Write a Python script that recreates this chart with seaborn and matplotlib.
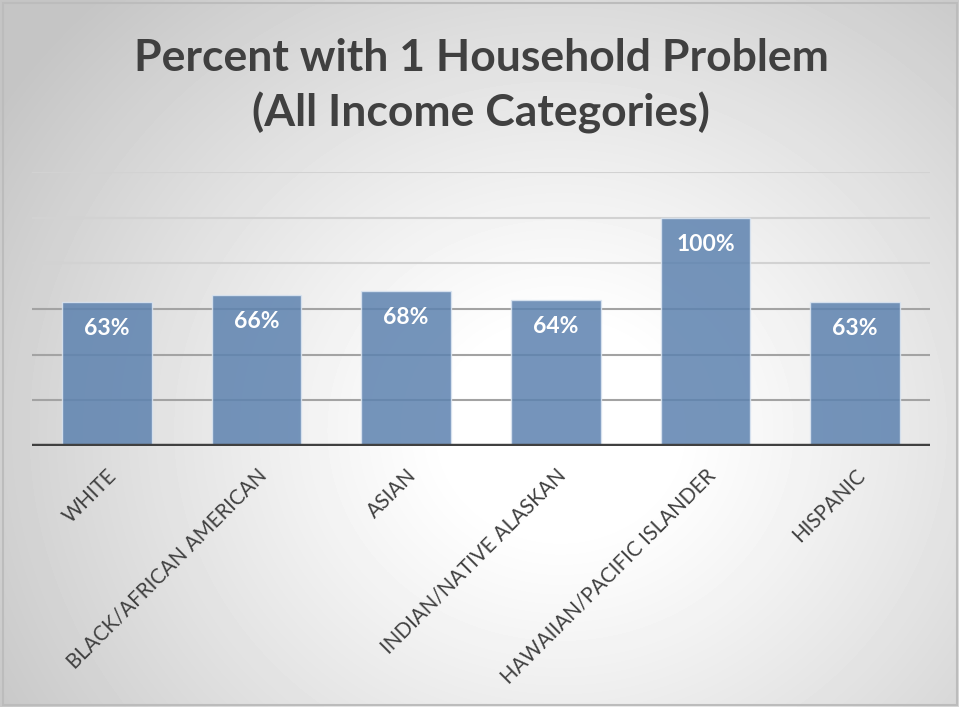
import numpy as np
import pandas as pd
import matplotlib
matplotlib.use("Agg")
import matplotlib.pyplot as plt
import seaborn as sns

categories = ["WHITE", "BLACK/AFRICAN AMERICAN", "ASIAN", "INDIAN/NATIVE ALASKAN",
              "HAWAIIAN/PACIFIC ISLANDER", "HISPANIC"]
percent = [63, 66, 68, 64, 100, 63]
title = "Percent with 1 Household Problem\n(All Income Categories)"

sns.set_theme(style="white")
plt.rcParams["font.family"] = ["Lato", "DejaVu Sans"]

W, H = 959, 707
fig = plt.figure(figsize=(W / 100, H / 100), dpi=100)

# radial gradient background: white centre fading to grey edges
bg = fig.add_axes([0, 0, 1, 1], zorder=-10)
yy, xx = np.mgrid[0:H, 0:W]
cx, cy = 560, 430
r = np.sqrt(((xx - cx) / 620.0) ** 2 + ((yy - cy) / 560.0) ** 2)
val = 1.0 - 0.23 * np.clip((r - 0.18) / 0.9, 0, 1) ** 1.1
bg.imshow(val, cmap="gray", vmin=0, vmax=1, aspect="auto", interpolation="bilinear")
bg.set_axis_off()
bg.add_patch(plt.Rectangle((2, 2), W - 5, H - 5, fill=False, edgecolor="#bcbcbc", lw=1.5))

ax = fig.add_axes([32 / W, 1 - 446 / H, (930 - 32) / W, (446 - 172) / H])
ax.patch.set_alpha(0)
df = pd.DataFrame({"cat": categories, "pct": percent})
sns.barplot(data=df, x="cat", y="pct", ax=ax, color="#4f81bd", alpha=0.85,
            width=0.6, edgecolor="#dce6f2", linewidth=1.0, zorder=3)
ax.set_ylim(0, 120)
ax.set_xlim(-0.5, len(categories) - 0.5)
for yv in [20, 40, 60]:
    ax.axhline(yv, color="#a3a3a3", lw=1.5, zorder=1)
for yv in [80, 100, 120]:
    ax.axhline(yv, color="#d2d2d2", lw=1.5, zorder=1)
ax.axhline(0, color="#404040", lw=3.2, zorder=5)
for s in ax.spines.values():
    s.set_visible(False)
ax.set_yticks([])
ax.set_xlabel("")
ax.set_ylabel("")
ax.tick_params(axis="x", length=0, pad=14)
ax.set_xticks(range(len(categories)))
ax.set_xticklabels(categories, rotation=45, ha="right", rotation_mode="anchor",
                   fontsize=14.8, color="#404040")

for i, v in enumerate(percent):
    ax.text(i, v - 11.6, f"{v}%", ha="center", va="center", color="white",
            fontsize=16.5, fontweight="bold", zorder=6)

fig.text(481 / W, 1 - 86 / H, title, ha="center", va="center", fontsize=32,
         fontweight="bold", color="#404040", linespacing=1.42)

fig.savefig("out.png", dpi=100)
